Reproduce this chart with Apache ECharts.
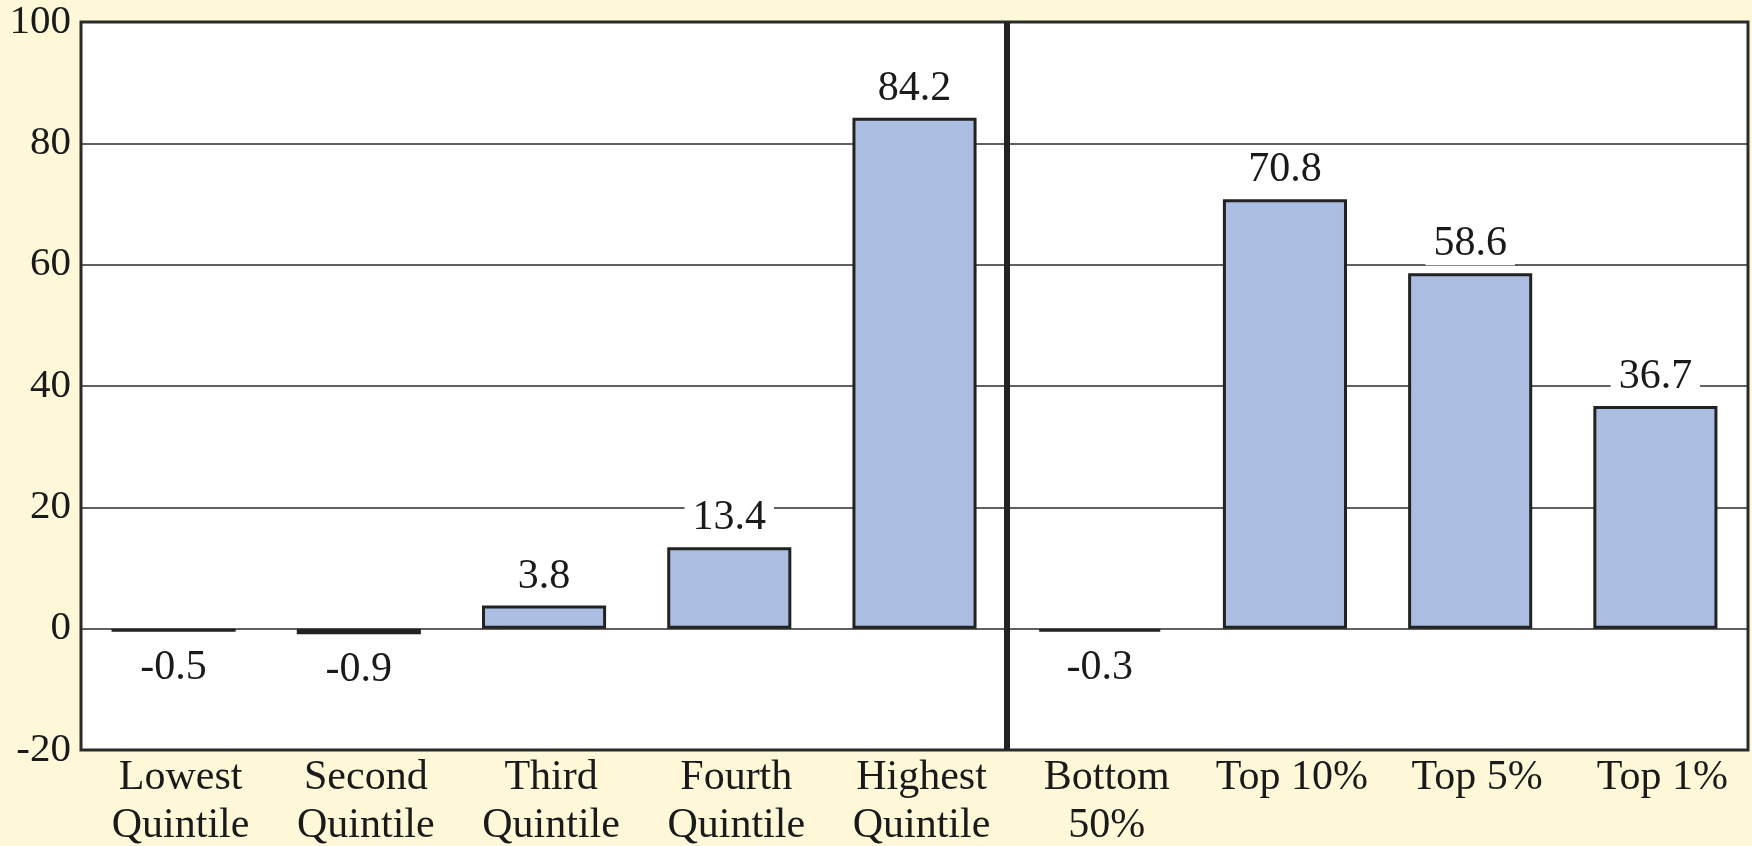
<!DOCTYPE html>
<html>
<head>
<meta charset="utf-8">
<script src="https://cdn.jsdelivr.net/npm/echarts@6/dist/echarts.min.js"></script>
<style>
html,body{margin:0;padding:0;background:#fef8d8;}
#chart{width:1752px;height:846px;}
</style>
</head>
<body>
<div id="chart"></div>
<script>
const categories = ['Lowest\nQuintile','Second\nQuintile','Third\nQuintile','Fourth\nQuintile','Highest\nQuintile','Bottom\n50%','Top 10%','Top 5%','Top 1%'];
const values = [-0.5, -0.9, 3.8, 13.4, 84.2, -0.3, 70.8, 58.6, 36.7];
const groupSizes = [5, 4];
const yTicks = {min: -20, max: 100, interval: 20};

const font = 'Liberation Serif';
const chart = echarts.init(document.getElementById('chart'));
chart.setOption({
  backgroundColor: '#fef8d8',
  animation: false,
  grid: {left: 81, right: 4, top: 22, bottom: 96, outerBoundsMode: 'none', containLabel: false,
         show: true, backgroundColor: '#ffffff', borderColor: '#2b2b2b', borderWidth: 3},
  xAxis: [{
    type: 'category', data: categories,
    axisLine: {show: false}, axisTick: {show: false},
    axisLabel: {color: '#1a1a1a', fontFamily: font, fontSize: 42, lineHeight: 48, margin: 4, interval: 0,
                padding: [0, 0, 0, 14]}
  }, {
    type: 'value', min: 0, max: categories.length, show: false
  }],
  yAxis: {
    type: 'value', min: yTicks.min, max: yTicks.max, interval: yTicks.interval,
    axisLine: {show: false}, axisTick: {show: false},
    axisLabel: {color: '#1a1a1a', fontFamily: font, fontSize: 41, margin: 10},
    splitLine: {show: true, lineStyle: {color: '#2b2b2b', width: 1.5}}
  },
  series: [{
    type: 'bar',
    barWidth: '67%',
    barMinHeight: 3,
    data: values.map(v => ({
      value: v,
      label: v < 0 ? {position: 'bottom', distance: 15} : {position: 'top', distance: 8}
    })),
    itemStyle: {color: '#abbde0', borderColor: '#222222', borderWidth: 3},
    label: {
      show: true, color: '#1a1a1a', fontFamily: font, fontSize: 42,
      backgroundColor: '#ffffff', padding: [0, 8],
      formatter: p => p.value.toFixed(1)
    }
  }, {
    type: 'scatter', xAxisIndex: 1, yAxisIndex: 0, data: [],
    markLine: {
      silent: true, symbol: 'none', label: {show: false},
      lineStyle: {color: '#222222', width: 6, type: 'solid'},
      data: [{xAxis: groupSizes[0]}]
    }
  }]
});
</script>
</body>
</html>
